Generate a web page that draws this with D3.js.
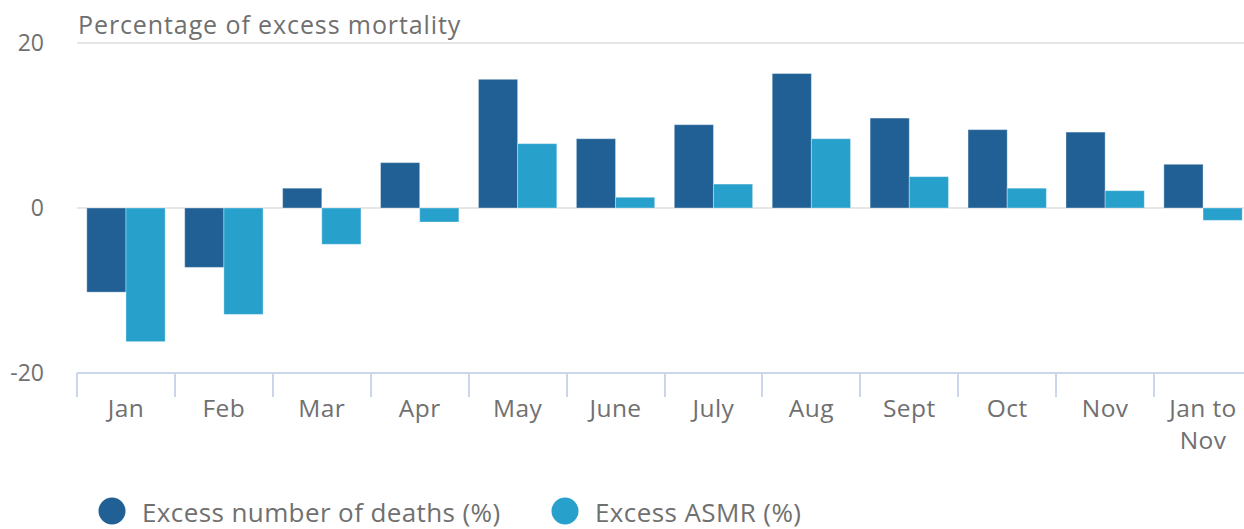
<!DOCTYPE html>
<html><head><meta charset="utf-8">
<script src="https://cdn.jsdelivr.net/npm/d3@7"></script>
<style>body{margin:0;background:#fff;overflow:hidden}svg{display:block}text{font-family:"Open Sans",sans-serif;fill:#707070}</style>
</head><body>
<svg id="chart" width="1244" height="529"></svg>
<script>
const categories = ["Jan","Feb","Mar","Apr","May","June","July","Aug","Sept","Oct","Nov","Jan to Nov"];
const seriesNames = ["Excess number of deaths (%)","Excess ASMR (%)"];
const deaths = [-10.2,-7.2,2.4,5.5,15.6,8.4,10.1,16.3,10.9,9.5,9.2,5.3];
const asmr = [-16.2,-12.9,-4.4,-1.7,7.8,1.3,2.9,8.4,3.8,2.4,2.1,-1.5];
const yTicks = [-20,0,20];
const colors = ["#206095","#27a0cc"];
const title = "Percentage of excess mortality";

(function(){
const svg = d3.select("#chart");
const pLeft = 77, pRight = 1252, pTop = 43, pBottom = 373;
const x = d3.scaleBand().domain(categories).range([pLeft,pRight]).padding(0);
const bw = x.bandwidth();
const xs = d3.scaleBand().domain(seriesNames).range([bw*0.1,bw*0.9]).padding(0);
const y = d3.scaleLinear().domain([-20,20]).range([pBottom,pTop]);

svg.append("g").selectAll("line").data(yTicks).join("line")
  .attr("x1",pLeft).attr("x2",1244).attr("y1",d=>y(d)).attr("y2",d=>y(d))
  .attr("stroke","#e6e6e6").attr("stroke-width",2);

svg.append("g").selectAll("text").data(yTicks).join("text")
  .attr("x",44).attr("y",d=>y(d)).attr("dy","0.36em").attr("text-anchor","end")
  .attr("font-size",23).text(d=>d);

svg.append("text").attr("x",78).attr("y",34).attr("font-size",25)
  .attr("letter-spacing",0.9).text(title);

const series = [deaths, asmr];
series.forEach((vals,si)=>{
  svg.append("g").selectAll("rect").data(vals).join("rect")
    .attr("x",(d,i)=>x(categories[i])+xs(seriesNames[si]))
    .attr("width",xs.bandwidth())
    .attr("y",d=>y(Math.max(0,d)))
    .attr("height",d=>Math.abs(y(d)-y(0)))
    .attr("fill",colors[si])
    .attr("stroke","rgba(255,255,255,0.35)").attr("stroke-width",1);
});

const xAxis = svg.append("g");
xAxis.append("line").attr("x1",pLeft).attr("x2",1244).attr("y1",pBottom).attr("y2",pBottom)
  .attr("stroke","#ccd6eb").attr("stroke-width",2);
xAxis.selectAll("line.tick").data(categories).join("line").attr("class","tick")
  .attr("x1",d=>Math.round(x(d))).attr("x2",d=>Math.round(x(d)))
  .attr("y1",pBottom).attr("y2",pBottom+24).attr("stroke","#ccd6eb").attr("stroke-width",2);
xAxis.selectAll("text").data(categories).join("text")
  .attr("x",d=>x(d)+bw/2).attr("y",417).attr("text-anchor","middle").attr("font-size",24.5)
  .attr("letter-spacing",0.4)
  .each(function(d){
    const t=d3.select(this);
    if(d==="Jan to Nov"){
      t.append("tspan").attr("x",x(d)+bw/2).text("Jan to");
      t.append("tspan").attr("x",x(d)+bw/2).attr("dy",32).text("Nov");
    } else t.text(d);
  });

const lx = [112,565];
seriesNames.forEach((n,i)=>{
  svg.append("circle").attr("cx",lx[i]).attr("cy",511).attr("r",13.5).attr("fill",colors[i]);
  svg.append("text").attr("x",lx[i]+30).attr("y",521.5).attr("font-size",26)
    .attr("letter-spacing",0.4).text(n);
});
})();
</script>
</body></html>
